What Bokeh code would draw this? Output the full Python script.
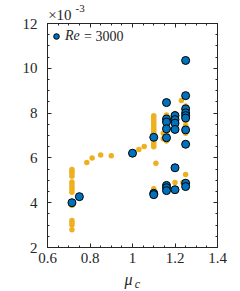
from bokeh.plotting import figure
from bokeh.models import LinearAxis, FixedTicker, Range1d, Label, Legend, LegendItem
from bokeh.embed import file_html
from bokeh.resources import INLINE

# ---- data (skin-friction values in units of 1e-3) ----
blue_mu = [0.715, 0.75, 1.00,
           1.10, 1.10, 1.10,
           1.16, 1.16, 1.16, 1.16, 1.16, 1.16, 1.16, 1.16,
           1.20, 1.20, 1.20, 1.20, 1.20, 1.20,
           1.25, 1.25, 1.25, 1.25, 1.25, 1.25, 1.25, 1.25, 1.25, 1.25]
blue_cf = [4.00, 4.27, 6.21,
           6.92, 4.42, 4.36,
           8.47, 7.74, 7.60, 7.30, 6.90, 4.77, 4.67, 4.54,
           7.89, 7.71, 7.55, 7.27, 5.56, 4.58,
           10.35, 8.78, 8.19, 8.01, 7.89, 7.78, 7.25, 6.61, 4.87, 4.72]

orange_mu = ([0.715] * 14 + [0.785, 0.81, 0.85, 0.90, 1.03, 1.055] + [1.10] * 17 +
             [1.11, 1.145, 1.145] + [1.16] * 6 + [1.20] * 4 + [1.23, 1.237] + [1.25] * 9)
orange_cf = ([5.48, 5.39, 5.29, 5.18, 4.92, 4.81, 4.69, 4.59, 4.47, 3.88, 3.21, 3.10, 3.01, 2.79] +
             [5.80, 5.99, 6.13, 6.10, 6.38, 6.51] +
             [7.88, 7.78, 7.68, 7.58, 7.48, 7.38, 7.28, 7.18, 7.08, 6.98, 6.88, 6.78, 6.68,
              6.58, 6.50, 4.62, 4.50] +
             [5.76, 7.10, 6.85] +
             [7.92, 7.82, 7.45, 7.15, 6.75, 4.82] +
             [7.98, 7.62, 7.40, 4.90] +
             [8.56, 4.90] +
             [8.32, 8.10, 7.95, 7.65, 7.45, 7.30, 7.10, 5.26, 4.95])

x_lo, x_hi = 0.6, 1.4
y_lo, y_hi = 2, 12
x_ticks = [0.6, 0.8, 1.0, 1.2, 1.4]
x_minor = [0.6 + 0.05 * i for i in range(17)]
y_ticks = [2, 4, 6, 8, 10, 12]
y_minor = [2 + 0.5 * i for i in range(21)]

AX = "#262626"
FONT = "Liberation Serif"

W, H = 240, 291
# axes box in canvas pixels
BL, BR, BT, BB = 47, 217, 23, 247
sx = (BR - BL) / (x_hi - x_lo)
sy = (BB - BT) / (y_hi - y_lo)
xr = Range1d(x_lo - BL / sx, x_hi + (W - BR) / sx)
yr_ = Range1d(y_lo - (H - BB) / sy, y_hi + BT / sy)

p = figure(width=W, height=H, output_backend="svg", toolbar_location=None,
           x_range=xr, y_range=yr_, min_border=0,
           x_axis_location=None, y_axis_location=None)
p.grid.visible = False
p.outline_line_color = None
p.background_fill_color = "white"
p.border_fill_color = "white"

def make_axis(loc, bounds, ticks, minor, labels):
    ax = LinearAxis(fixed_location=loc, bounds=bounds)
    ax.ticker = FixedTicker(ticks=ticks, minor_ticks=minor)
    ax.axis_line_color = AX
    ax.major_tick_line_color = AX
    ax.minor_tick_line_color = AX
    ax.major_tick_in = 4
    ax.major_tick_out = 0
    ax.minor_tick_in = 2
    ax.minor_tick_out = 0
    ax.major_label_text_font = FONT
    ax.major_label_text_font_size = "15px"
    ax.major_label_text_color = AX if labels else None
    return ax

xb = make_axis(y_lo, (x_lo, x_hi), x_ticks, x_minor, True); xb.major_label_standoff = 5
yl = make_axis(x_lo, (y_lo, y_hi), y_ticks, y_minor, True); yl.major_label_standoff = 10
xt = make_axis(y_hi, (x_lo, x_hi), x_ticks, x_minor, False)
yrt = make_axis(x_hi, (y_lo, y_hi), y_ticks, y_minor, False)
p.add_layout(xb, "below")
p.add_layout(yl, "left")
p.add_layout(xt, "above")
p.add_layout(yrt, "right")

p.scatter(orange_mu, orange_cf, size=5.5, fill_color="#EDB120", line_color=None)
rb = p.scatter(blue_mu, blue_cf, size=8, fill_color="#0072BD", line_color="black", line_width=1)

leg = Legend(items=[LegendItem(label="Re", renderers=[rb])], location=(49, 247),
             padding=1, margin=0, spacing=0, glyph_width=14, glyph_height=14,
             label_standoff=2, border_line_color=None, background_fill_alpha=0,
             label_text_font=FONT, label_text_font_size="14px", label_text_font_style="italic",
             label_text_color=AX, label_height=14)
p.add_layout(leg)

p.add_layout(Label(x=0.772, y=11.42, text="= 3000", text_font=FONT, text_font_size="14px",
                   text_color=AX, text_baseline="middle"))
p.add_layout(Label(x=0.603, y=12.36, text="×10", text_font=FONT, text_font_size="15px",
                   text_color=AX, text_baseline="middle"))
p.add_layout(Label(x=0.732, y=12.65, text="-3", text_font=FONT, text_font_size="11px",
                   text_color=AX, text_baseline="middle"))
p.add_layout(Label(x=0.962, y=0.56, text="μ", text_font=FONT, text_font_size="16px",
                   text_font_style="italic", text_color=AX, text_baseline="middle"))
p.add_layout(Label(x=1.011, y=0.37, text="c", text_font=FONT, text_font_size="12px",
                   text_font_style="italic", text_color=AX, text_baseline="middle"))

open("out.html", "w").write(file_html(p, INLINE))
